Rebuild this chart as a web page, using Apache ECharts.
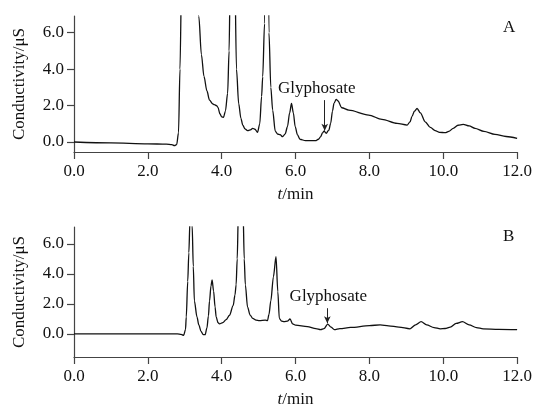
<!DOCTYPE html>
<html>
<head>
<meta charset="utf-8">
<script src="https://cdn.jsdelivr.net/npm/echarts@6/dist/echarts.min.js"></script>
<style>
  html, body { margin: 0; padding: 0; background: #fff; }
  #chart { width: 535px; height: 409px; }
</style>
</head>
<body>
<div id="chart"></div>
<script>
// panel A (off-scale peaks clipped by the axis max)
const timeA = [0, 1.0, 2.0, 2.5, 2.65, 2.72, 2.78, 2.83, 2.87, 2.92, 3.0, 3.1, 3.25, 3.38, 3.45, 3.52, 3.6, 3.67, 3.75, 3.8,
  3.86, 3.9, 3.95, 4.0, 4.05, 4.1, 4.16, 4.2, 4.23, 4.3, 4.35, 4.4, 4.46, 4.52, 4.57, 4.63, 4.7, 4.77, 4.84, 4.9,
  4.97, 5.03, 5.08, 5.11, 5.16, 5.22, 5.28, 5.33, 5.38, 5.45, 5.51, 5.58, 5.65, 5.72, 5.78, 5.84, 5.89, 5.94, 5.99, 6.05,
  6.12, 6.27, 6.54, 6.62, 6.68, 6.73, 6.77, 6.83, 6.9, 6.95, 7.0, 7.04, 7.1, 7.15, 7.25, 7.44, 7.98, 8.34, 8.75, 9.02,
  9.1, 9.15, 9.22, 9.29, 9.38, 9.51, 9.65, 9.78, 9.9, 10.05, 10.15, 10.27, 10.4, 10.54, 10.7, 10.86, 11.1, 11.4, 11.7, 12.0]
const signalA = [0, -0.05, -0.1, -0.12, -0.15, -0.2, -0.15, 0.5, 4, 10, 25, 20, 11, 6.9, 4.8, 3.6, 2.8, 2.3, 2.1, 2.05,
  2.0, 1.9, 1.55, 1.38, 1.36, 1.7, 2.67, 5, 9, 25, 10, 4, 2.1, 1.3, 0.93, 0.72, 0.62, 0.66, 0.75, 0.7,
  0.53, 1.0, 2.5, 3.58, 6.5, 25, 6.0, 3.0, 1.75, 0.6, 0.44, 0.4, 0.29, 0.45, 0.84, 1.6, 2.12, 1.6, 0.84, 0.4,
  0.15, 0.07, 0.07, 0.15, 0.29, 0.5, 0.6, 0.48, 0.65, 1.02, 1.7, 2.12, 2.34, 2.25, 1.88, 1.75, 1.48, 1.24, 1.02, 0.93,
  1.1, 1.39, 1.7, 1.84, 1.6, 1.11, 0.8, 0.62, 0.53, 0.51, 0.58, 0.75, 0.92, 0.97, 0.88, 0.75, 0.58, 0.42, 0.3, 0.2]

// panel B
const timeB = [0, 2.8, 2.9, 2.97, 3.02, 3.04, 3.08, 3.11, 3.14, 3.17, 3.2, 3.23, 3.26, 3.33, 3.38, 3.44, 3.5, 3.55, 3.6, 3.64,
  3.67, 3.71, 3.74, 3.78, 3.82, 3.85, 3.9, 3.94, 4.03, 4.12, 4.21, 4.31, 4.36, 4.39, 4.42, 4.45, 4.52, 4.58, 4.61, 4.64,
  4.7, 4.77, 4.84, 4.93, 5.02, 5.18, 5.24, 5.28, 5.33, 5.4, 5.47, 5.52, 5.56, 5.62, 5.69, 5.78, 5.85, 5.92, 6.0, 6.32,
  6.55, 6.68, 6.77, 6.87, 6.96, 7.05, 7.2, 7.49, 8.0, 8.29, 8.52, 8.8, 9.1, 9.25, 9.4, 9.55, 9.75, 9.92, 10.05, 10.19,
  10.35, 10.52, 10.7, 10.9, 11.08, 11.5, 12.0]
const signalB = [0, 0, -0.03, -0.1, 0.3, 1.13, 3.5, 5.4, 7.5, 8.5, 7.2, 4.5, 2.2, 1.13, 0.6, 0.17, -0.05, -0.05, 0.4, 1.2,
  2.2, 3.2, 3.59, 2.85, 1.8, 1.13, 0.75, 0.67, 0.75, 0.95, 1.24, 1.88, 2.6, 3.27, 5, 8, 14, 8, 5, 3.27,
  1.78, 1.25, 1.03, 0.92, 0.88, 0.92, 0.88, 1.3, 2.2, 3.8, 5.15, 2.8, 1.03, 0.85, 0.81, 0.85, 0.99, 0.67, 0.58, 0.49,
  0.35, 0.28, 0.35, 0.65, 0.45, 0.28, 0.35, 0.43, 0.55, 0.6, 0.54, 0.45, 0.34, 0.6, 0.81, 0.6, 0.42, 0.34, 0.36, 0.45,
  0.7, 0.81, 0.6, 0.42, 0.34, 0.3, 0.28]

const yTicks = [0, 2, 4, 6]
const xRange = [0, 12]
const yRangeA = [-0.55, 6.92]
const yRangeB = [-1.54, 7.12]
// glyphosate arrow: [time, top value, tip value]
const arrowA = [6.79, 2.3, 0.62]
const arrowB = [6.86, 1.71, 0.7]

const FONT = 'Liberation Serif'
const chart = echarts.init(document.getElementById('chart'))

function pairs(xs, ys) {
  return xs.map((x, i) => [x, ys[i]])
}

function xAxisOf(gridIndex) {
  return {
    type: 'value', gridIndex: gridIndex,
    min: xRange[0], max: xRange[1], interval: 2,
    name: '{i|t}/min', nameLocation: 'middle', nameGap: 34,
    nameTextStyle: {
      fontFamily: FONT, fontSize: 17, color: '#111',
      rich: { i: { fontFamily: FONT, fontSize: 17, fontStyle: 'italic', color: '#111' } }
    },
    axisLine: { onZero: false, lineStyle: { color: '#444', width: 1.2 } },
    axisTick: { length: 7, lineStyle: { color: '#444', width: 1.2 } },
    axisLabel: { margin: 11, fontFamily: FONT, fontSize: 17, color: '#111', formatter: v => v.toFixed(1) },
    splitLine: { show: false }
  }
}

function yAxisOf(gridIndex, range) {
  return {
    type: 'value', gridIndex: gridIndex,
    min: range[0], max: range[1],
    name: 'Conductivity/μS', nameLocation: 'middle', nameGap: 46,
    nameTextStyle: { fontFamily: FONT, fontSize: 17, color: '#111' },
    axisLine: { show: true, onZero: false, lineStyle: { color: '#444', width: 1.2 } },
    axisTick: { show: true, length: 7, customValues: yTicks, lineStyle: { color: '#444', width: 1.2 } },
    axisLabel: { margin: 10, fontFamily: FONT, fontSize: 17, color: '#111', customValues: yTicks, formatter: v => v.toFixed(1) },
    splitLine: { show: false }
  }
}

function arrowLine(a, offsetX) {
  return {
    silent: true,
    symbol: ['none', 'arrow'],
    symbolSize: [5, 7],
    lineStyle: { color: '#222', width: 1, type: 'solid' },
    label: {
      show: true, position: 'start', distance: 3, offset: [offsetX, 0],
      formatter: 'Glyphosate', fontFamily: FONT, fontSize: 17, color: '#111'
    },
    data: [[{ coord: [a[0], a[1]] }, { coord: [a[0], a[2]] }]]
  }
}

function traceOf(idx, data, arrow, offsetX) {
  return {
    type: 'line', xAxisIndex: idx, yAxisIndex: idx,
    data: data, showSymbol: false, smooth: 0.3, smoothMonotone: 'x',
    clip: true,
    lineStyle: { color: '#111', width: 1.3 },
    markLine: arrowLine(arrow, offsetX)
  }
}

const option = {
  animation: false,
  grid: [
    { left: 74, right: 16, top: 16, height: 136 },
    { left: 74, right: 16, top: 227, height: 135 }
  ],
  xAxis: [xAxisOf(0), xAxisOf(1)],
  yAxis: [yAxisOf(0, yRangeA), yAxisOf(1, yRangeB)],
  graphic: [
    { type: 'text', left: 503, top: 19, style: { text: 'A', font: '17px "Liberation Serif"', fill: '#111' } },
    { type: 'text', left: 503, top: 228, style: { text: 'B', font: '17px "Liberation Serif"', fill: '#111' } }
  ],
  series: [
    traceOf(0, pairs(timeA, signalA), arrowA, -8),
    traceOf(1, pairs(timeB, signalB), arrowB, 1)
  ]
}

chart.setOption(option)
</script>
</body>
</html>
